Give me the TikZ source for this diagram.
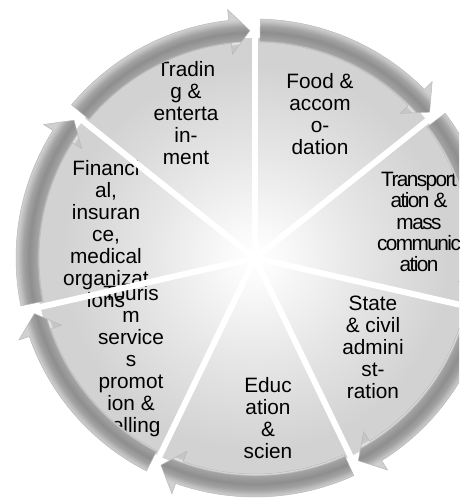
\documentclass[tikz,border=0pt]{standalone}
\usepackage{fontspec}
\setmainfont{Liberation Sans}

\definecolor{pieinner}{HTML}{FAFAFA}
\definecolor{piemid}{HTML}{E6E6E6}
\definecolor{pieouter}{HTML}{D2D2D2}
\definecolor{ringsoft}{HTML}{C6C6C6}
\definecolor{ringshine}{HTML}{EDEDED}
\definecolor{ringlow}{HTML}{A4A4A4}
\definecolor{ringdark}{HTML}{8E8E8E}
\definecolor{ringmid}{HTML}{A2A2A2}
\definecolor{ringhigh}{HTML}{BEBEBE}
\definecolor{ringtop}{HTML}{D0D0D0}
\definecolor{ringrim}{HTML}{B8B8B8}

% disk of radius 220 -> 25bp, ring circle of radius 252 -> 25bp
\pgfdeclareradialshading{piemetal}{\pgfpoint{0bp}{0bp}}{%
  color(0bp)=(white); color(3bp)=(pieinner); color(12bp)=(piemid);
  color(22bp)=(pieouter); color(25bp)=(pieouter); color(50bp)=(pieouter)}
\pgfdeclareradialshading{ringmetal}{\pgfpoint{0bp}{0bp}}{%
  color(0bp)=(ringsoft); color(21.2bp)=(ringsoft); color(21.4bp)=(ringshine);
  color(21.6bp)=(ringlow); color(22.4bp)=(ringdark); color(23.0bp)=(ringmid);
  color(23.4bp)=(ringhigh); color(23.7bp)=(ringtop); color(25bp)=(ringtop);
  color(50bp)=(ringtop)}

\tikzset{
  seglabel/.style={align=center, inner sep=0pt,
    font=\fontsize{20.8}{22}\selectfont},
  gapline/.style={white, line width=6pt},
  ringarrow/.style={draw=ringrim, line width=0.5pt,
    path picture={\shade[shading=ringmetal] (0,0) circle (252);}},
}

\begin{document}
\begin{tikzpicture}[x=1pt,y=1pt]
\useasboundingbox (-255,-245) rectangle (204,258);
\clip (-255,-245) rectangle (204,258);

\shade[shading=piemetal] (0,0) circle (220);

\node[seglabel] (trading) at (-69,145) {Tradin\\g \&\\enterta\\in-\\ment};
\node[seglabel] (food) at (65,144) {Food \&\\accom\\o-\\dation};
\node[seglabel, font=\fontsize{20.8}{21.3}\selectfont\addfontfeatures{LetterSpace=-7.5}]
  (transport) at (164,36) {Transport\\ation \&\\mass\\communic\\ation};
\node[seglabel] (state) at (118,-89) {State\\\& civil\\admini\\st-\\ration};
\node[seglabel] (education) at (13,-160) {Educ\\ation\\\&\\scien};
\node[seglabel] (tourism) at (-124,-103) {Touris\\m\\service\\s\\promot\\ion \&\\selling};
\node[seglabel] (finance) at (-149,24) {Financi\\al,\\insuran\\ce,\\medical\\organizat\\ions};

\foreach \a in {90,38.5714,-12.8571,-64.2857,-115.7143,-167.1429,141.4286}
  \draw[gapline] (0,0) -- (\a:222);

\foreach \s [evaluate=\s as \e using \s-51.4286] in
    {141.4286,90,38.5714,-12.8571,-64.2857,-115.7143,-167.1429}
  \path[ringarrow] (\s-1.3:239) arc[start angle=\s-1.3, end angle=\e+6.3, radius=239]
    -- (\e+6.3:250) -- (\e+1.3:227.5) -- (\e+6.3:205) -- (\e+6.3:216)
    arc[start angle=\e+6.3, end angle=\s-1.3, radius=216] -- cycle;
\end{tikzpicture}
\end{document}
